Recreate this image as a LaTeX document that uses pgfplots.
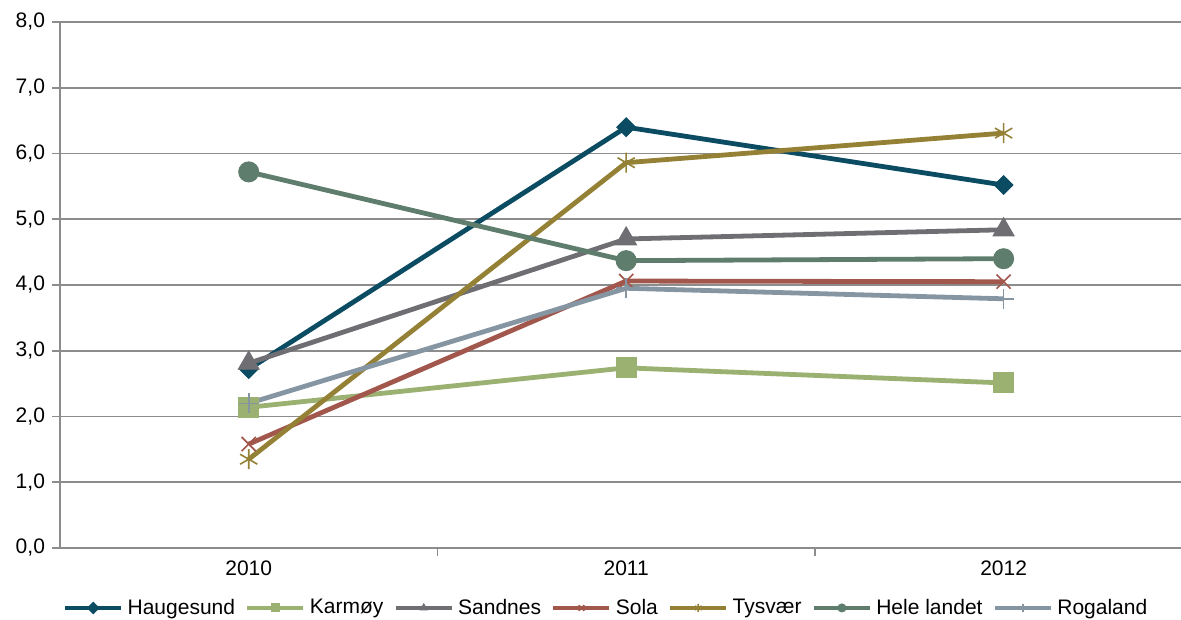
\documentclass[border=0pt]{standalone}
\usepackage{fontspec}
\setmainfont{Liberation Sans}
\usepackage{pgfplots}
\pgfplotsset{compat=1.18}
\definecolor{haug}{HTML}{0B4C63}
\definecolor{karm}{HTML}{9BB172}
\definecolor{sand}{HTML}{6F6E73}
\definecolor{sola}{HTML}{A2574D}
\definecolor{tysv}{HTML}{948135}
\definecolor{hele}{HTML}{5E7D6C}
\definecolor{roga}{HTML}{8595A2}
\definecolor{gridgrey}{HTML}{8C8C8C}
\begin{document}
\begin{tikzpicture}
\begin{axis}[
  name=ax,
  scale only axis,
  width=560.5pt, height=263pt,
  xmin=-0.5, xmax=2.47,
  ymin=0, ymax=8,
  axis x line*=bottom, axis y line*=left,
  axis line style={draw=gridgrey, line width=0.8pt},
  xtick={0.5,1.5}, xticklabels={},
  extra x ticks={0,1,2},
  extra x tick labels={2010,2011,2012},
  extra x tick style={major tick length=0pt},
  ytick={0,1,2,3,4,5,6,7,8},
  yticklabels={{0,0},{1,0},{2,0},{3,0},{4,0},{5,0},{6,0},{7,0},{8,0}},
  ymajorgrids=true,
  grid style={draw=gridgrey, line width=0.8pt},
  tick style={draw=gridgrey, line width=0.8pt},
  tick align=outside,
  major tick length=4pt,
  tick label style={font=\fontsize{10.5}{12}\selectfont, text=black},
  xticklabel style={yshift=-3pt},
  clip=false,
  legend columns=7,
  legend style={at={(0.488,-0.114)}, anchor=center, draw=none, fill=none,
    font=\fontsize{10.5}{12}\selectfont, /tikz/every even column/.append style={column sep=3pt},
    inner sep=0pt},
  legend image code/.code={\draw[mark repeat=2,mark phase=2,mark size=2pt] plot coordinates {(0pt,0pt) (14pt,0pt) (28pt,0pt)};},
]
\addplot[color=haug, line width=2.4pt, mark=square*, mark size=3.3pt, mark options={rotate=45, solid, line width=0.5pt}] coordinates {(0,2.72) (1,6.40) (2,5.52)};
\addlegendentry{Haugesund}
\addplot[color=karm, line width=2.4pt, mark=square*, mark size=5pt, mark options={solid, line width=0.5pt}] coordinates {(0,2.14) (1,2.74) (2,2.51)};
\addlegendentry{Karmøy}
\addplot[color=sand, line width=2.4pt, mark=triangle*, mark size=6pt, mark options={solid, line width=0.5pt}] coordinates {(0,2.81) (1,4.70) (2,4.84)};
\addlegendentry{Sandnes}
\addplot[color=sola, line width=2.4pt, mark=x, mark size=5pt, mark options={solid, line width=0.8pt}] coordinates {(0,1.58) (1,4.06) (2,4.05)};
\addlegendentry{Sola}
\addplot[color=tysv, line width=2.4pt, mark=asterisk, mark size=5pt, mark options={solid, line width=0.8pt}] coordinates {(0,1.35) (1,5.86) (2,6.31)};
\addlegendentry{Tysvær}
\addplot[color=hele, line width=2.4pt, mark=*, mark size=5pt, mark options={solid, line width=0.5pt}] coordinates {(0,5.72) (1,4.37) (2,4.40)};
\addlegendentry{Hele landet}
\addplot[color=roga, line width=2.4pt, mark=+, mark size=5pt, mark options={solid, line width=0.8pt}] coordinates {(0,2.20) (1,3.95) (2,3.79)};
\addlegendentry{Rogaland}
\end{axis}
\pgfresetboundingbox
\path ([xshift=-30pt,yshift=-36pt]ax.south west) rectangle ([yshift=11pt]ax.north east);
\end{tikzpicture}
\end{document}
